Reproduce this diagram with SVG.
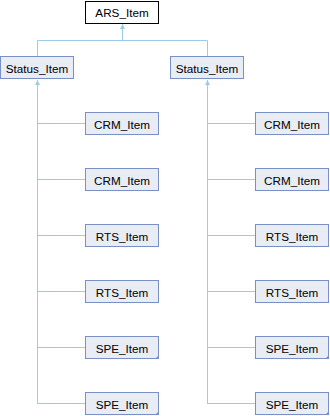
<svg xmlns="http://www.w3.org/2000/svg" width="330" height="416" viewBox="0 0 330 416">
<style>
.n rect{fill:#e8ecf5;stroke:#7a8fc3;stroke-width:1}
.root rect{fill:#ffffff;stroke:#000000;stroke-width:1}
text{font-family:"Liberation Sans",Arial,sans-serif;font-size:11.7px;fill:#000;text-anchor:middle}
.e{stroke:#9ccbe9;stroke-width:1;fill:none}
.c{fill:#7a8fc3}
</style>
<defs>
<marker id="ah" viewBox="0 0 10 10" refX="10" refY="5" markerWidth="5" markerHeight="5" orient="auto" markerUnits="userSpaceOnUse">
<path d="M0,0 L10,5 L0,10 z" fill="#9ccbe9"/>
</marker>
</defs>
<g id="edges">
<path class="e" d="M37.5,56 V40.5 H207.5 V56"/>
<path class="e" d="M122.5,40.5 V24" marker-end="url(#ah)"/>
<path class="e" d="M37.5,404 V80" marker-end="url(#ah)"/>
<path class="e" d="M207.5,404 V80" marker-end="url(#ah)"/>
<path class="e" d="M37.5,123.5 H85 M37.5,179.5 H85 M37.5,235.5 H85 M37.5,291.5 H85 M37.5,347.5 H85 M37.5,403.5 H85"/>
<path class="e" d="M207.5,123.5 H255 M207.5,179.5 H255 M207.5,235.5 H255 M207.5,291.5 H255 M207.5,347.5 H255 M207.5,403.5 H255"/>
</g>
<g id="ars" class="root"><rect x="85.5" y="1.5" width="73" height="22"/><text x="122" y="17">ARS_Item</text></g>
<g id="statusL" class="n"><rect x="0.5" y="56.5" width="73" height="22"/><text x="37" y="72.5">Status_Item</text></g>
<g id="statusR" class="n"><rect x="170.5" y="56.5" width="73" height="22"/><text x="207" y="72.5">Status_Item</text></g>
<g id="crmL1" class="n"><rect x="85.5" y="112.5" width="73" height="22"/><text x="122" y="128.5">CRM_Item</text></g>
<g id="crmL2" class="n"><rect x="85.5" y="168.5" width="73" height="22"/><text x="122" y="184.5">CRM_Item</text></g>
<g id="rtsL1" class="n"><rect x="85.5" y="224.5" width="73" height="22"/><text x="122" y="240.5">RTS_Item</text></g>
<g id="rtsL2" class="n"><rect x="85.5" y="280.5" width="73" height="22"/><text x="122" y="296.5">RTS_Item</text></g>
<g id="speL1" class="n"><rect x="85.5" y="336.5" width="73" height="22"/><path class="c" d="M159,355 V359 H155 z"/><text x="122" y="352.5">SPE_Item</text></g>
<g id="speL2" class="n"><rect x="85.5" y="392.5" width="73" height="22"/><path class="c" d="M159,411 V415 H155 z"/><text x="122" y="408.5">SPE_Item</text></g>
<g id="crmR1" class="n"><rect x="255.5" y="112.5" width="73" height="22"/><text x="292" y="128.5">CRM_Item</text></g>
<g id="crmR2" class="n"><rect x="255.5" y="168.5" width="73" height="22"/><text x="292" y="184.5">CRM_Item</text></g>
<g id="rtsR1" class="n"><rect x="255.5" y="224.5" width="73" height="22"/><text x="292" y="240.5">RTS_Item</text></g>
<g id="rtsR2" class="n"><rect x="255.5" y="280.5" width="73" height="22"/><text x="292" y="296.5">RTS_Item</text></g>
<g id="speR1" class="n"><rect x="255.5" y="336.5" width="73" height="22"/><path class="c" d="M329,355 V359 H325 z"/><text x="292" y="352.5">SPE_Item</text></g>
<g id="speR2" class="n"><rect x="255.5" y="392.5" width="73" height="22"/><path class="c" d="M329,411 V415 H325 z"/><text x="292" y="408.5">SPE_Item</text></g>
</svg>
